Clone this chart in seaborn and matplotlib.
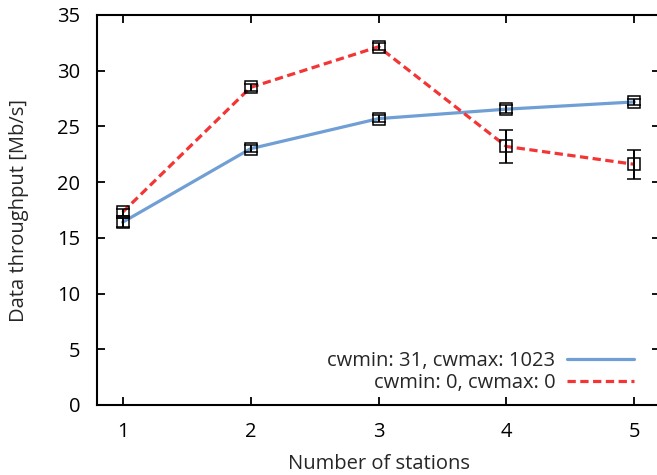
import pandas as pd
import matplotlib
matplotlib.use("Agg")
import matplotlib.pyplot as plt
import seaborn as sns

# Data
stations = [1, 2, 3, 4, 5]
thr_31_1023 = [16.4, 23.0, 25.7, 26.55, 27.2]
err_31_1023 = [0.4, 0.3, 0.3, 0.35, 0.3]
thr_0_0 = [17.3, 28.5, 32.15, 23.2, 21.6]
err_0_0 = [0.3, 0.3, 0.3, 1.5, 1.3]
labels = ["cwmin: 31, cwmax: 1023", "cwmin: 0, cwmax: 0"]

sns.set_style("ticks")
plt.rcParams['font.family'] = ['Open Sans', 'DejaVu Sans']

df = pd.DataFrame({
    "stations": stations * 2,
    "throughput": thr_31_1023 + thr_0_0,
    "config": [labels[0]] * 5 + [labels[1]] * 5,
})

fig = plt.figure(figsize=(6.57, 4.75), dpi=100)
ax = fig.add_axes([97 / 657, 70 / 475, 563 / 657, 390 / 475])

colors = {labels[0]: "#6f9fd4", labels[1]: "#f33535"}
sns.lineplot(data=df, x="stations", y="throughput", hue="config", style="config",
             palette=colors, dashes={labels[0]: "", labels[1]: (2.6, 1.4)},
             linewidth=2.3, ax=ax, legend=True)

# error bars with open squares
for y, e in [(thr_31_1023, err_31_1023), (thr_0_0, err_0_0)]:
    ax.errorbar(stations, y, yerr=e, fmt="s", color="black", mfc="none", mec="black",
                ms=8, mew=1.1, ecolor="black", elinewidth=1.4, capsize=5,
                capthick=1.4, zorder=5)

ax.set_xlim(0.8, 5.2)
ax.set_ylim(0, 35)
ax.set_xticks(stations)
ax.set_yticks(range(0, 36, 5))
ax.tick_params(direction="in", length=6, width=1.3, labelsize=14.5,
               top=True, right=True, pad=12, colors="black")
for s in ax.spines.values():
    s.set_linewidth(1.5)
    s.set_color("black")
ax.set_xlabel("Number of stations", fontsize=14.5, labelpad=9)
ax.set_ylabel("Data throughput [Mb/s]", fontsize=14.5, labelpad=20)

leg = ax.legend(loc="lower right", bbox_to_anchor=(0.975, 0.0), frameon=False,
                markerfirst=False, fontsize=14.5, handlelength=3.3,
                handletextpad=0.6, labelspacing=0.1, borderaxespad=0.2)
for t in leg.get_texts():
    t.set_ha("right")
leg._legend_box.align = "right"

fig.savefig("out.png", dpi=100)
